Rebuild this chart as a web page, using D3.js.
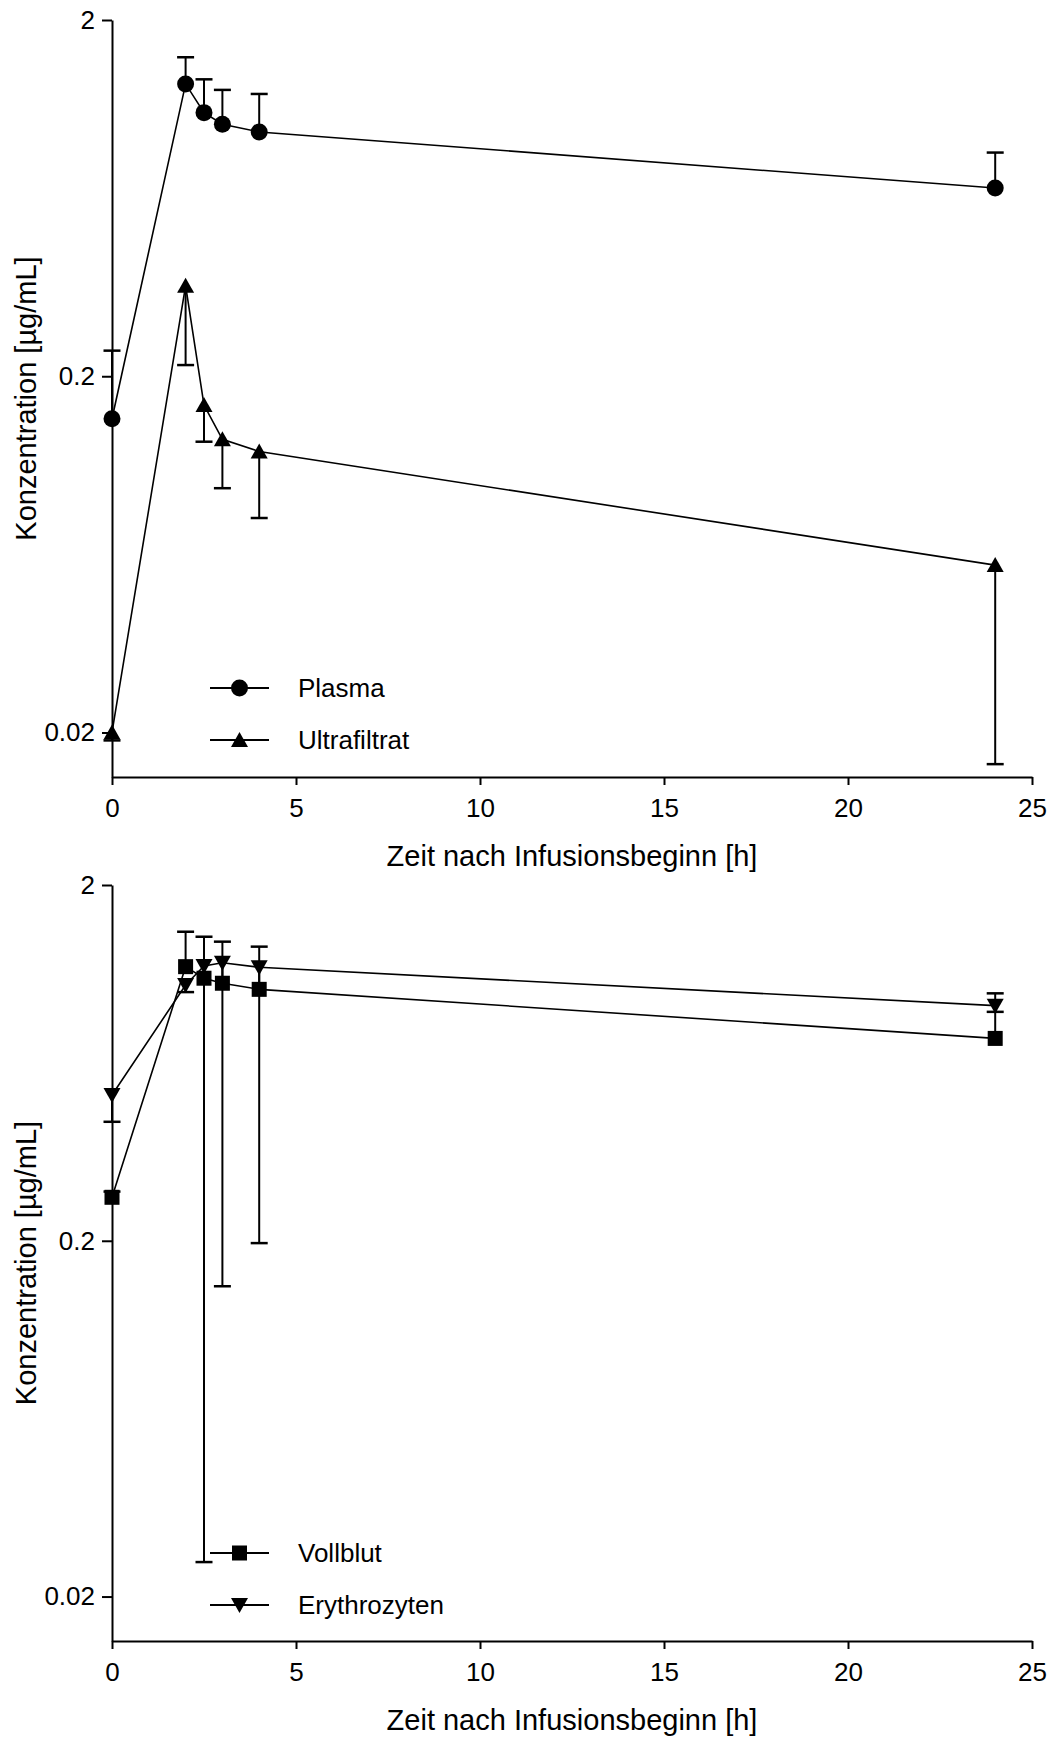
<!DOCTYPE html>
<html>
<head>
<meta charset="utf-8">
<script src="https://cdn.jsdelivr.net/npm/d3@7"></script>
<style>
  html, body { margin: 0; padding: 0; background: #fff; }
  svg { display: block; font-family: "Liberation Sans", Arial, sans-serif; }
</style>
</head>
<body>
<svg id="chart" width="1053" height="1737"></svg>
<script>
// Sampling times [h]
const times = [0, 2, 2.5, 3, 4, 24];

// Upper panel: mean concentrations [µg/mL] with one-sided SD
const plasma = [0.152, 1.323, 1.099, 1.020, 0.970, 0.675];
const plasmaUpper = [0.236, 1.572, 1.363, 1.273, 1.240, 0.849];
const ultrafiltrat = [0.020, 0.359, 0.166, 0.133, 0.123, 0.059];
const ultrafiltratLower = [0.019, 0.215, 0.131, 0.097, 0.080, 0.0163];

// Lower panel
const vollblut = [0.265, 1.179, 1.094, 1.059, 1.018, 0.741];
const vollblutUpper = [0.275, 1.478, 1.431, 1.386, 1.342, 0.992];
const erythrozyten = [0.514, 1.047, 1.184, 1.209, 1.174, 0.916];
const erythrozytenLower = [0.432, 1.000, 0.025, 0.149, 0.197, 0.880];

// Axis ticks and labels
const xTicks = [0, 5, 10, 15, 20, 25];
const yTicks = [0.02, 0.2, 2];
const yTickLabels = ["0.02", "0.2", "2"];
const xTitle = "Zeit nach Infusionsbeginn [h]";
const yTitle = "Konzentration [µg/mL]";

const svg = d3.select("#chart");

const symbols = {
  circle: g => g.append("circle").attr("r", 8.5),
  triangleUp: g => g.append("path").attr("d", "M0,-8L8.5,7L-8.5,7Z"),
  triangleDown: g => g.append("path").attr("d", "M0,8L8.5,-7L-8.5,-7Z"),
  square: g => g.append("rect").attr("x", -7.5).attr("y", -7.5).attr("width", 15).attr("height", 15)
};

function drawPanel(p) {
  const x = d3.scaleLinear().domain([0, 25]).range([112, 1032]);
  const y = d3.scaleLog().domain([0.015, 2]).range([p.bottom, p.top]);
  const g = svg.append("g");

  // Axes
  const yAxis = g.append("g")
    .attr("transform", "translate(112,0)")
    .call(d3.axisLeft(y).tickValues(yTicks).tickFormat((d, i) => yTickLabels[i])
      .tickSize(10).tickSizeOuter(0).tickPadding(7));
  const xAxis = g.append("g")
    .attr("transform", `translate(0,${p.bottom})`)
    .call(d3.axisBottom(x).tickValues(xTicks).tickFormat(d3.format("d"))
      .tickSize(8).tickSizeOuter(0).tickPadding(14));
  [yAxis, xAxis].forEach(a => {
    a.select(".domain").attr("stroke", "#000").attr("stroke-width", 2);
    a.selectAll(".tick line").attr("stroke", "#000").attr("stroke-width", 2);
    a.selectAll(".tick text").attr("fill", "#000").attr("font-size", 26)
      .attr("font-family", "Liberation Sans, Arial, sans-serif");
  });

  g.append("text")
    .attr("x", 572).attr("y", p.bottom + 89)
    .attr("text-anchor", "middle").attr("font-size", 29).text(xTitle);
  g.append("text")
    .attr("transform", `translate(36,${(p.top + p.bottom) / 2}) rotate(-90)`)
    .attr("text-anchor", "middle").attr("font-size", 29).text(yTitle);

  const line = d3.line().x(d => x(d.t)).y(d => y(d.v));

  p.series.forEach(s => {
    const pts = times.map((t, i) => ({ t, v: s.values[i], e: s.err[i] }));
    const sg = g.append("g");
    sg.append("path").datum(pts).attr("d", line)
      .attr("fill", "none").attr("stroke", "#000").attr("stroke-width", 1.6);
    const eb = sg.selectAll(".eb").data(pts).join("g");
    eb.append("line")
      .attr("x1", d => x(d.t)).attr("x2", d => x(d.t))
      .attr("y1", d => y(d.v)).attr("y2", d => y(d.e))
      .attr("stroke", "#000").attr("stroke-width", 2);
    eb.append("line")
      .attr("x1", d => x(d.t) - 8.5).attr("x2", d => x(d.t) + 8.5)
      .attr("y1", d => y(d.e)).attr("y2", d => y(d.e))
      .attr("stroke", "#000").attr("stroke-width", 2.5);
    s.shapes = pts;
  });
  p.series.forEach(s => {
    s.shapes.forEach(d => {
      const m = g.append("g").attr("transform", `translate(${x(d.t)},${y(d.v)})`).attr("fill", "#000");
      symbols[s.symbol](m);
    });
  });

  // Legend
  p.series.forEach((s, i) => {
    const ly = p.legendY[i];
    const lg = g.append("g").attr("transform", `translate(0,${ly})`);
    lg.append("line").attr("x1", 210).attr("x2", 269).attr("y1", 0).attr("y2", 0)
      .attr("stroke", "#000").attr("stroke-width", 2);
    const m = lg.append("g").attr("transform", "translate(239.5,0)").attr("fill", "#000");
    symbols[s.symbol](m);
    lg.append("text").attr("x", 298).attr("y", 0).attr("dy", "0.33em")
      .attr("font-size", 26).text(s.name);
  });
}

drawPanel({
  top: 20, bottom: 777,
  legendY: [688, 740],
  series: [
    { name: "Plasma", values: plasma, err: plasmaUpper, symbol: "circle" },
    { name: "Ultrafiltrat", values: ultrafiltrat, err: ultrafiltratLower, symbol: "triangleUp" }
  ]
});

drawPanel({
  top: 885, bottom: 1641,
  legendY: [1553, 1605],
  series: [
    { name: "Vollblut", values: vollblut, err: vollblutUpper, symbol: "square" },
    { name: "Erythrozyten", values: erythrozyten, err: erythrozytenLower, symbol: "triangleDown" }
  ]
});
</script>
</body>
</html>
